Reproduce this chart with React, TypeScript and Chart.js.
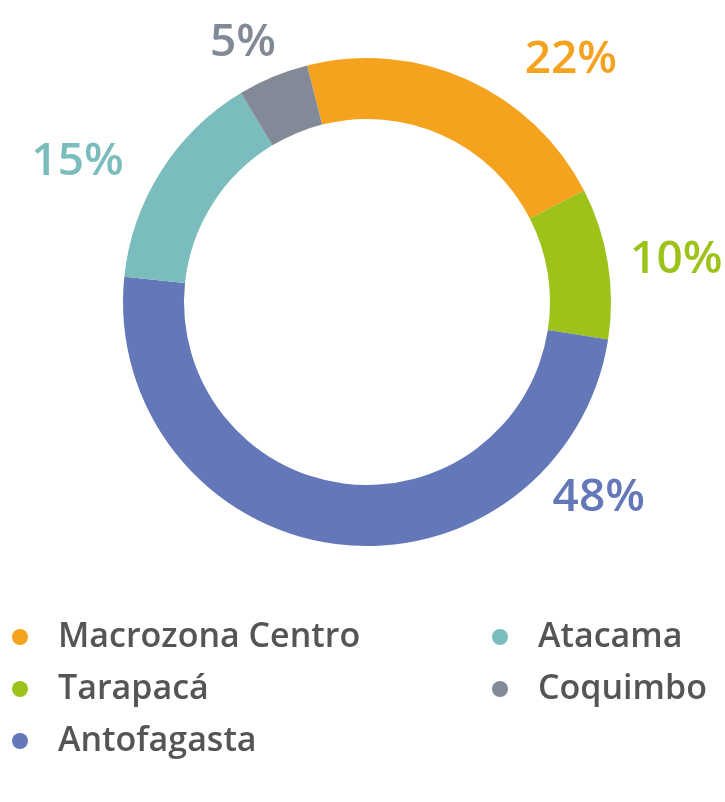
import React, { useEffect, useRef } from "react";
import { Chart, registerables } from "chart.js";

Chart.register(...registerables);

const categories = ["Macrozona Centro", "Tarapacá", "Antofagasta", "Atacama", "Coquimbo"];
const shares = [21.4, 10.0, 49.2, 14.7, 4.7];
const percentLabels = ["22%", "10%", "48%", "15%", "5%"];
const colors = ["#F5A31E", "#9DC31B", "#6377B9", "#7BBCBC", "#838A97"];

const FONT = "'Open Sans', 'DejaVu Sans', sans-serif";

const percentLabelPlugin = {
  id: "percentLabels",
  afterDatasetsDraw(chart: any, _args: any, opts: any) {
    const meta = chart.getDatasetMeta(0);
    const ctx = chart.ctx;
    ctx.save();
    ctx.font = `600 46px ${FONT}`;
    ctx.textAlign = "center";
    ctx.textBaseline = "middle";
    meta.data.forEach((arc: any, i: number) => {
      const { x, y, outerRadius } = arc.getProps(["x", "y", "outerRadius"], true);
      const a = (opts.angles[i] * Math.PI) / 180;
      const r = outerRadius * opts.radii[i];
      const px = x + Math.sin(a) * r;
      const py = y - Math.cos(a) * r;
      ctx.fillStyle = colors[i];
      ctx.fillText(percentLabels[i], px, py + 1);
    });
    ctx.restore();
  },
};

const columnLegendPlugin = {
  id: "columnLegend",
  afterDraw(chart: any, _args: any, opts: any) {
    const ctx = chart.ctx;
    ctx.save();
    ctx.font = `600 34px ${FONT}`;
    ctx.textAlign = "left";
    ctx.textBaseline = "middle";
    const labels = chart.data.labels as string[];
    const bg = chart.data.datasets[0].backgroundColor as string[];
    labels.forEach((lab, i) => {
      const col = i < opts.perColumn ? 0 : 1;
      const row = i < opts.perColumn ? i : i - opts.perColumn;
      const dotX = opts.columnX[col];
      const cy = opts.top + row * opts.rowGap;
      ctx.fillStyle = bg[i];
      ctx.beginPath();
      ctx.arc(dotX, cy, 8, 0, Math.PI * 2);
      ctx.fill();
      ctx.fillStyle = "#555555";
      ctx.fillText(lab, dotX + opts.textGap, cy);
    });
    ctx.restore();
  },
};

export default function App() {
  const ref = useRef<HTMLCanvasElement | null>(null);

  useEffect(() => {
    document.body.style.margin = "0";
    if (!ref.current) return;
    const chart = new Chart(ref.current, {
      type: "doughnut",
      data: {
        labels: categories,
        datasets: [
          {
            data: shares,
            backgroundColor: colors,
            borderWidth: 0,
          },
        ],
      },
      options: {
        responsive: false,
        animation: false,
        rotation: -14.2,
        cutout: "75%",
        layout: { padding: { left: 123, right: 114, top: 58, bottom: 256 } },
        plugins: {
          legend: { display: false },
          tooltip: { enabled: false },
          percentLabels: {
            angles: [40, 82, 130, -64, -25.5],
            radii: [1.3, 1.28, 1.24, 1.32, 1.18],
          },
          columnLegend: {
            perColumn: 3,
            columnX: [20, 500],
            textGap: 38,
            top: 637,
            rowGap: 52,
          },
        } as any,
      },
      plugins: [percentLabelPlugin, columnLegendPlugin],
    });
    return () => chart.destroy();
  }, []);

  return (
    <div style={{ width: 725, height: 802, background: "#fff" }}>
      <canvas ref={ref} width={725} height={802} />
    </div>
  );
}
